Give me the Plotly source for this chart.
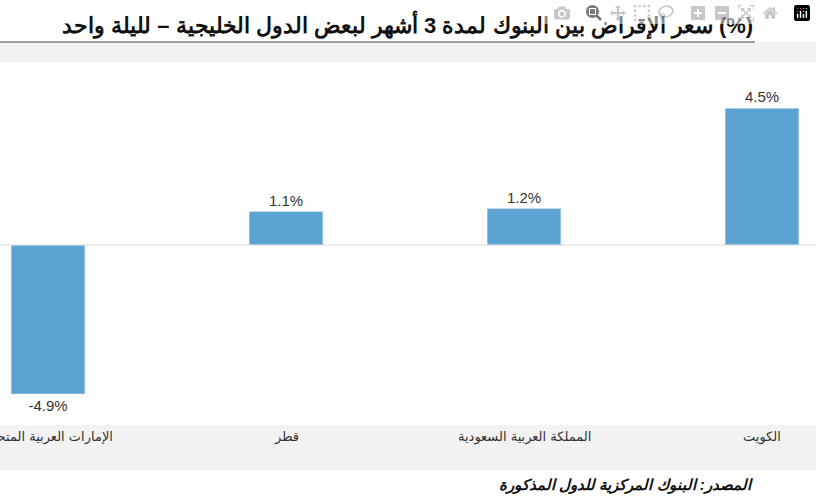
import plotly.graph_objects as go

countries = ["الكويت", "المملكة العربية السعودية", "قطر", "الإمارات العربية المتحدة"]
values = [4.5, 1.2, 1.1, -4.9]
labels = ["4.5%", "1.2%", "1.1%", "-4.9%"]

W, H = 816, 500
fig = go.Figure(go.Bar(
    x=list(range(len(countries))), y=values, width=0.31,
    marker_color="#5ba3d0", text=labels, textposition="outside",
    textfont=dict(family="Liberation Sans Narrow, Liberation Sans", size=15, color="#333"),
    cliponaxis=False))

fig.update_layout(
    width=W, height=H, margin=dict(l=0, r=0, t=62, b=75),
    paper_bgcolor="white", plot_bgcolor="white", showlegend=False,
    xaxis=dict(range=[3.2017, -0.2269], visible=False),
    yaxis=dict(range=[-5.92, 6.02], visible=False, zeroline=False),
)
fig.add_hline(y=0, line=dict(color="#d9d9d9", width=1))
fig.add_shape(type="rect", xref="paper", yref="paper", x0=0, x1=1,
              y0=1, y1=1 + 20/363, fillcolor="#f2f2f2", line_width=0, layer="below")
fig.add_shape(type="rect", xref="paper", yref="paper", x0=0, x1=1,
              y0=-45/363, y1=0, fillcolor="#f2f2f2", line_width=0, layer="below")
fig.add_shape(type="line", xref="paper", yref="paper", x0=0, x1=755/816,
              y0=1 + 20/363, y1=1 + 20/363, line=dict(color="#808080", width=1.5))
for i, c in enumerate(countries):
    fig.add_annotation(x=i, y=-22/363, xref="x", yref="paper", text=c, showarrow=False,
                       font=dict(family="DejaVu Sans", size=13, color="#333"))
fig.add_annotation(x=755/816, y=1 + 37/363, xref="paper", yref="paper", xanchor="right", yanchor="middle",
                   text="<b>سعر الإقراض بين البنوك لمدة 3 أشهر لبعض الدول الخليجية – لليلة واحد (%)</b>",
                   showarrow=False, font=dict(family="Liberation Sans", size=22, color="#111"))
fig.add_annotation(x=755/816, y=-60/363, xref="paper", yref="paper", xanchor="right", yanchor="middle",
                   text="<b><i>المصدر: البنوك المركزية للدول المذكورة</i></b>",
                   showarrow=False, font=dict(family="Liberation Sans", size=15, color="#111"))
fig.write_html("out.html", post_script="document.body.style.margin='0';document.body.style.overflow='hidden';")
